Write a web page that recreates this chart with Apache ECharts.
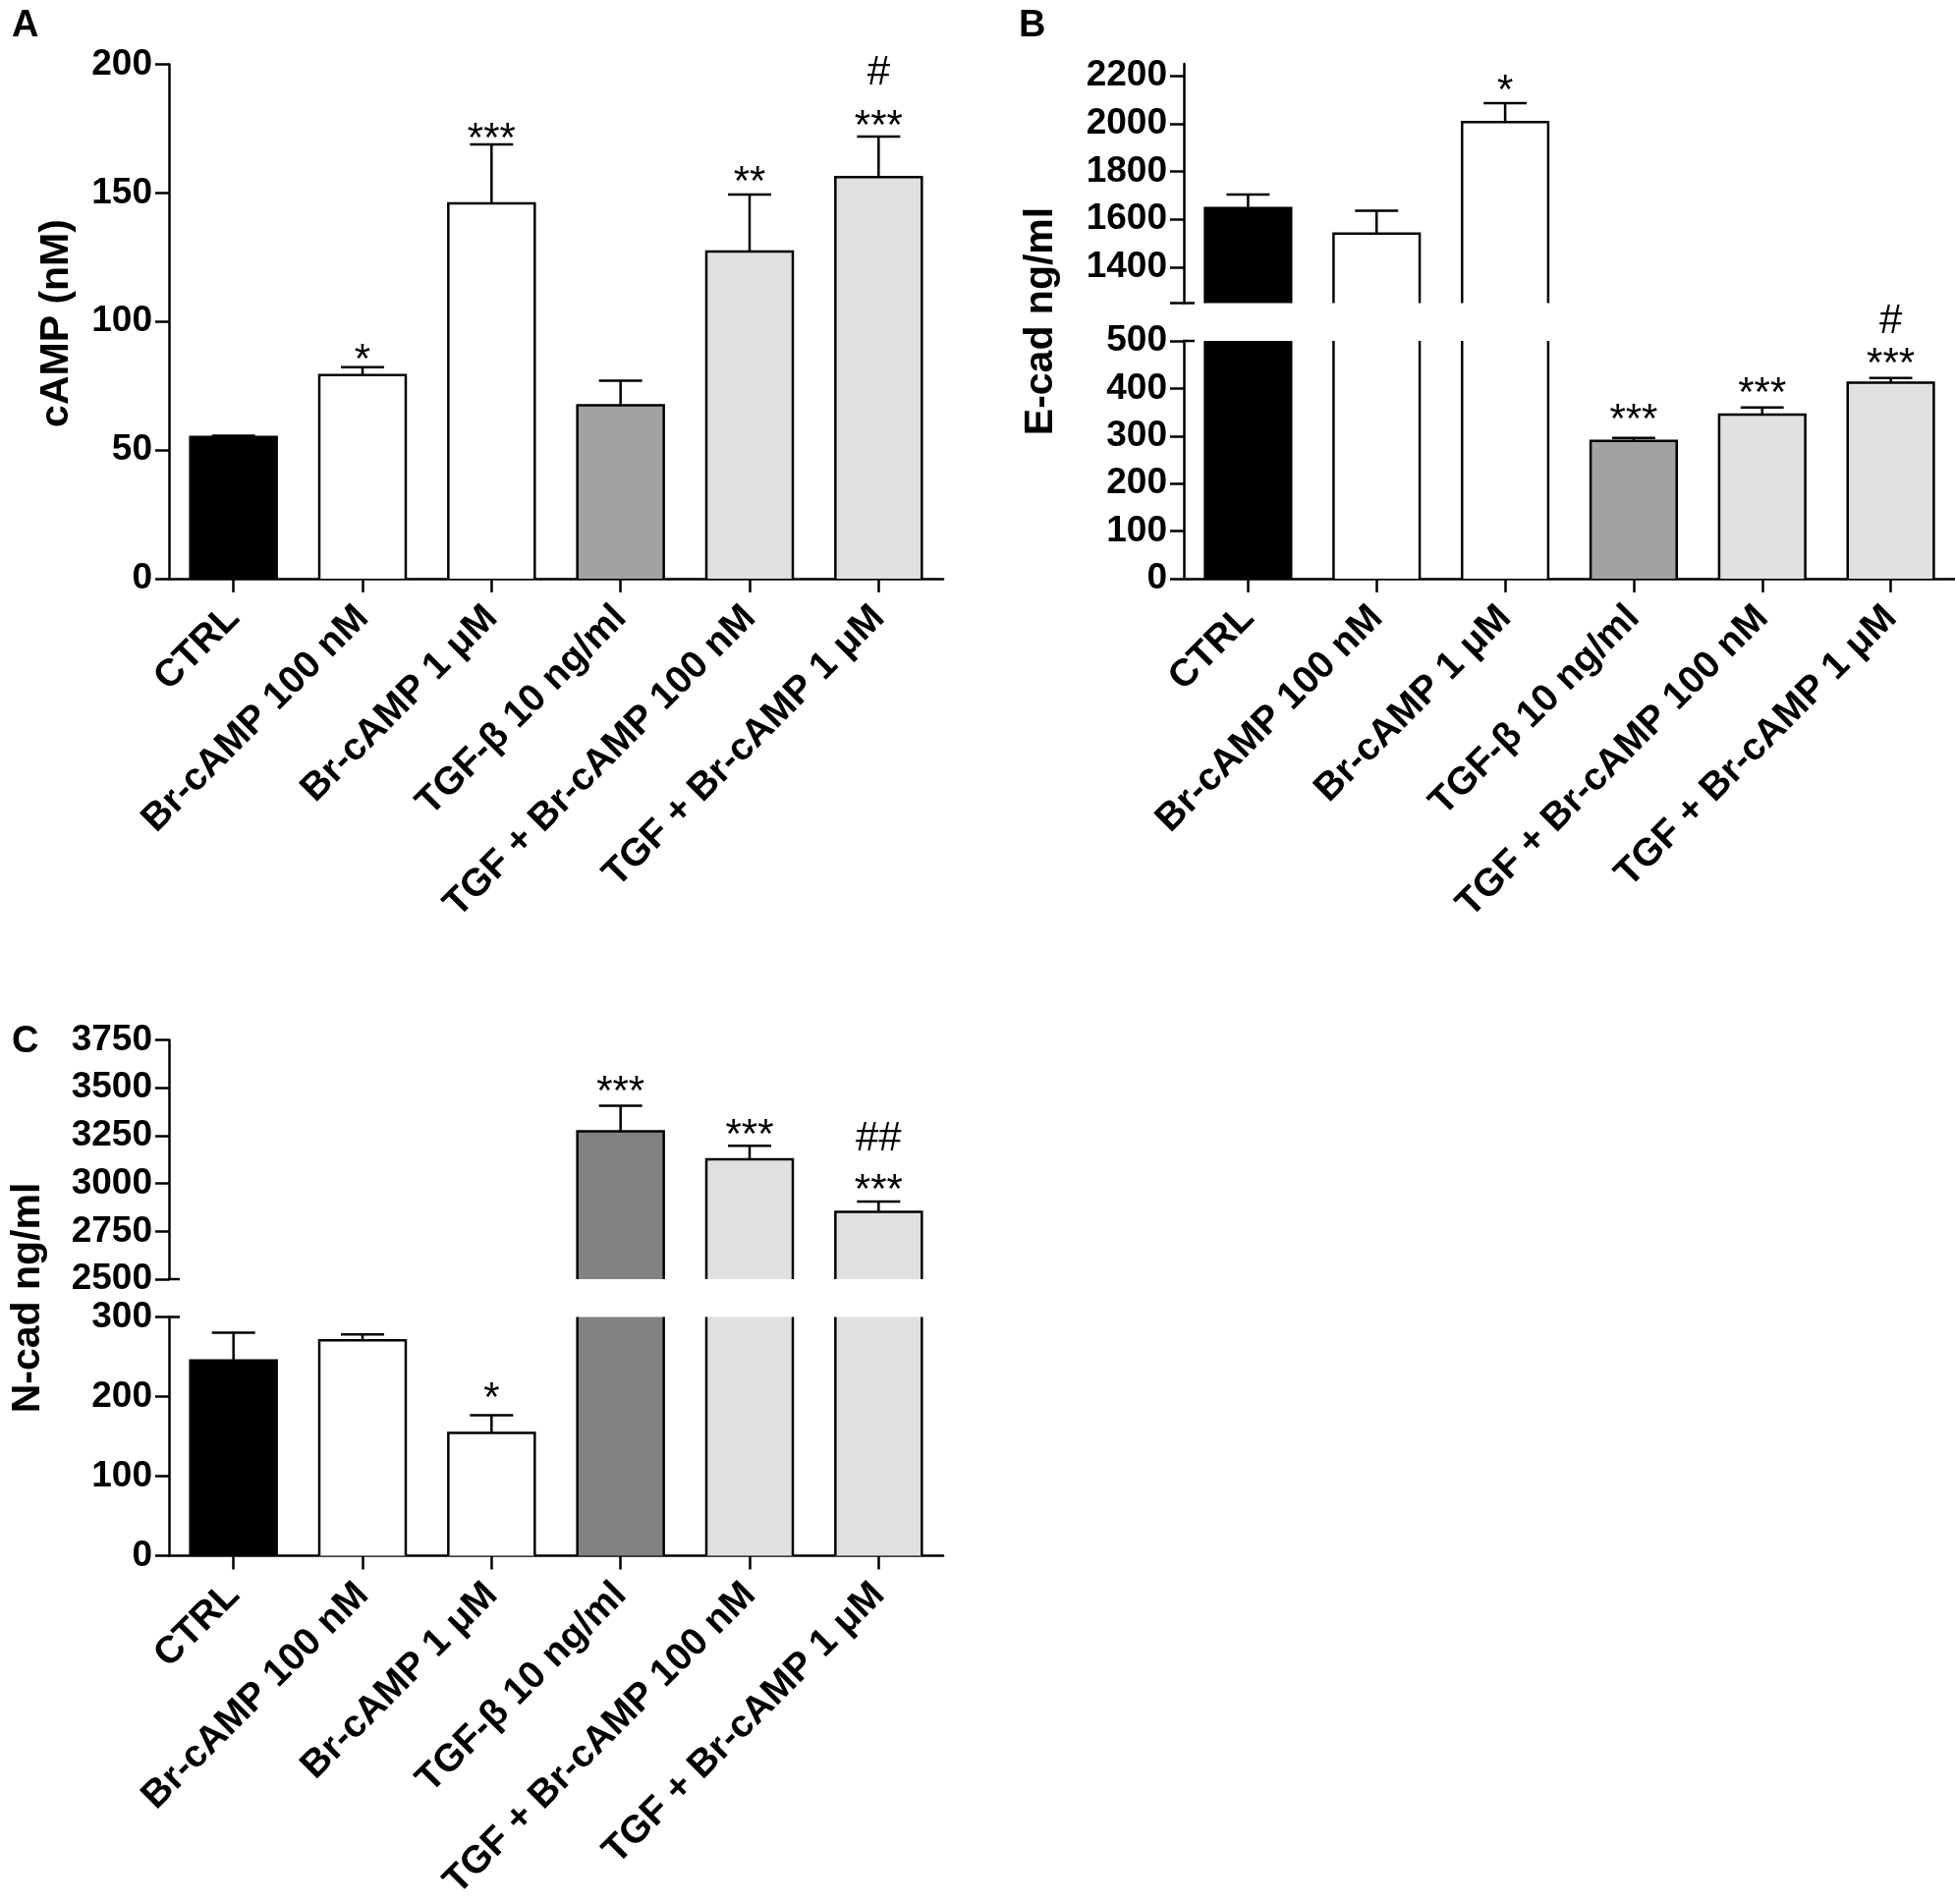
<!DOCTYPE html>
<html>
<head>
<meta charset="utf-8">
<script src="https://cdn.jsdelivr.net/npm/echarts@6.0.0/dist/echarts.min.js"></script>
<style>
  html, body { margin: 0; padding: 0; background: #fff; }
  #chart { width: 1990px; height: 1938px; }
</style>
</head>
<body>
<div id="chart"></div>
<script>
// ---------------- DATA ----------------
const categories = ['CTRL', 'Br-cAMP 100 nM', 'Br-cAMP 1 μM', 'TGF-β 10 ng/ml', 'TGF + Br-cAMP 100 nM', 'TGF + Br-cAMP 1 μM'];

// Panel A: cAMP (nM)
const campMean = [55.1, 79.2, 145.9, 67.4, 127.2, 156.2];
const campErr  = [0.5, 3.0, 23.0, 9.6, 22.2, 15.7];
const campTicks = [0, 50, 100, 150, 200];
const campNotes = [
  { cat: 1, y: 89, t: '*' },
  { cat: 2, y: 175, t: '***' },
  { cat: 4, y: 158, t: '**' },
  { cat: 5, y: 180, t: '***' },
  { cat: 5, y: 197, t: '#' }
];

// Panel B: E-cad ng/ml (broken axis)
const ecadMean = [1647, 1541, 2007, 290, 345, 412];
const ecadErr  = [57, 95, 79, 6, 15, 10];
const ecadUpperTickLabels = [1400, 1600, 1800, 2000, 2200];
const ecadUpperTicks = [1250, 1400, 1600, 1800, 2000, 2200];
const ecadLowerTicks = [0, 100, 200, 300, 400, 500];
const ecadBreakUpper = [1250];
const ecadBreakLower = [500];
const ecadNotesUpper = [ { cat: 2, y: 2180, t: '*' } ];
const ecadNotesLower = [
  { cat: 3, y: 356, t: '***' },
  { cat: 4, y: 411, t: '***' },
  { cat: 5, y: 474, t: '***' },
  { cat: 5, y: 543, t: '#' }
];

// Panel C: N-cad ng/ml (broken axis)
const ncadMean = [245.4, 270.6, 154.2, 3272, 3126, 2852];
const ncadErr  = [35, 7.6, 22.4, 134, 71, 53];
const ncadUpperTicks = [2500, 2750, 3000, 3250, 3500, 3750];
const ncadLowerTicks = [0, 100, 200, 300];
const ncadBreakUpper = [2500];
const ncadBreakLower = [300];
const ncadNotesUpper = [
  { cat: 3, y: 3531, t: '***' },
  { cat: 4, y: 3303, t: '***' },
  { cat: 5, y: 3238, t: '##' },
  { cat: 5, y: 3018, t: '***' }
];
const ncadNotesLower = [ { cat: 2, y: 211, t: '*' } ];

// ---------------- STYLE ----------------
const FONT = '"Liberation Sans", Arial, Helvetica, sans-serif';
const colorsAB = ['#000000', '#ffffff', '#ffffff', '#a2a2a2', '#e0e0e0', '#e0e0e0'];
const colorsC  = ['#000000', '#ffffff', '#ffffff', '#828282', '#e0e0e0', '#e0e0e0'];
const LW = 2.5;
const TICK_FS = 37;
const CAT_FS = 39;
const NOTE_FS = 42;
const NAME_FS = 41;

function barRender(params, api) {
  const idx = api.value(0), v = api.value(1), e = api.value(2);
  const cs = params.coordSys;
  const bottom = cs.y + cs.height, ceil = cs.y;
  const c = api.coord([idx, v]);
  const bw = api.size([1, 0])[0] * 0.67;
  let top = c[1];
  if (top >= bottom) return { type: 'group', children: [] };
  const clipped = top < ceil;
  if (clipped) top = ceil;
  const x0 = c[0] - bw / 2, x1 = c[0] + bw / 2;
  const fill = api.visual('color');
  const lineStyle = { stroke: '#000', lineWidth: LW, fill: null };
  const children = [
    { type: 'rect', shape: { x: x0, y: top, width: bw, height: bottom - top }, style: { fill: fill } }
  ];
  if (clipped) {
    children.push({ type: 'line', shape: { x1: x0, y1: bottom, x2: x0, y2: top }, style: lineStyle });
    children.push({ type: 'line', shape: { x1: x1, y1: bottom, x2: x1, y2: top }, style: lineStyle });
  } else {
    children.push({ type: 'polyline', shape: { points: [[x0, bottom], [x0, top], [x1, top], [x1, bottom]] }, style: lineStyle });
    const et = api.coord([idx, v + e])[1];
    children.push({ type: 'line', shape: { x1: c[0], y1: top, x2: c[0], y2: et }, style: lineStyle });
    children.push({ type: 'line', shape: { x1: c[0] - bw / 4, y1: et, x2: c[0] + bw / 4, y2: et }, style: lineStyle });
  }
  return { type: 'group', children: children };
}

function noteRender(list) {
  return function (params, api) {
    const a = list[params.dataIndex];
    const p = api.coord([a.cat, a.y]);
    const star = a.t.indexOf('*') >= 0;
    return {
      type: 'text',
      x: p[0],
      y: p[1] + (star ? 0.27 * NOTE_FS : 0.03 * NOTE_FS),
      style: {
        text: a.t, fill: '#000',
        font: NOTE_FS + 'px ' + FONT,
        align: 'center', verticalAlign: 'middle',
        textAlign: 'center', textVerticalAlign: 'middle'
      }
    };
  };
}

// short inward mark where the axis is broken
function breakRender(params, api) {
  const y = api.coord([0, api.value(1)])[1];
  const x = params.coordSys.x;
  return { type: 'line', shape: { x1: x - 1, y1: y, x2: x + 11, y2: y }, style: { stroke: '#000', lineWidth: LW } };
}

function barSeries(idx, mean, err, colors) {
  return {
    type: 'custom', xAxisIndex: idx, yAxisIndex: idx,
    renderItem: barRender,
    data: mean.map((v, i) => ({ value: [i, v, err[i]], itemStyle: { color: colors[i] } })),
    z: 2
  };
}
function noteSeries(idx, list) {
  return {
    type: 'custom', xAxisIndex: idx, yAxisIndex: idx,
    renderItem: noteRender(list),
    data: list.map(a => [a.cat, a.y]),
    z: 3
  };
}
function breakSeries(idx, vals) {
  return {
    type: 'custom', xAxisIndex: idx, yAxisIndex: idx,
    renderItem: breakRender,
    data: vals.map(v => [0, v]),
    z: 4
  };
}

const axisLine = { show: true, lineStyle: { color: '#000', width: LW } };
function xAxisDef(grid, show) {
  return {
    type: 'category', gridIndex: grid, data: categories, show: show,
    axisLine: axisLine,
    axisTick: { show: true, alignWithLabel: true, length: 14, lineStyle: { color: '#000', width: LW } },
    axisLabel: {
      rotate: 45, interval: 0, margin: 34, color: '#000',
      fontFamily: FONT, fontWeight: 'bold', fontSize: CAT_FS
    },
    splitLine: { show: false }
  };
}
function yAxisDef(grid, ticks, labelValues) {
  const min = ticks[0], max = ticks[ticks.length - 1];
  const ax = {
    type: 'value', gridIndex: grid, min: min, max: max,
    axisLine: axisLine,
    axisTick: { show: true, length: 14, lineStyle: { color: '#000', width: LW } },
    axisLabel: {
      margin: 17, color: '#000', fontFamily: FONT, fontWeight: 'bold', fontSize: TICK_FS,
      formatter: function (v) { return String(v); }
    },
    splitLine: { show: false }
  };
  if (labelValues) {
    ax.axisTick.customValues = ticks;
    ax.axisLabel.customValues = labelValues;
  } else {
    ax.interval = ticks[1] - ticks[0];
  }
  return ax;
}

const chart = echarts.init(document.getElementById('chart'), null, { renderer: 'canvas' });

const grids = [
  { left: 172, top: 65.5, width: 788, height: 523.5 },   // A
  { left: 1205, top: 65, width: 785, height: 243.5 },    // B upper
  { left: 1205, top: 347, width: 785, height: 242 },     // B lower
  { left: 172, top: 1058.5, width: 788, height: 243.5 }, // C upper
  { left: 172, top: 1340.5, width: 788, height: 243 }    // C lower
].map(g => Object.assign({ containLabel: false, outerBoundsMode: 'none' }, g));

const yB = yAxisDef(1, ecadUpperTicks, ecadUpperTickLabels);
yB.max = 2250;

const option = {
  animation: false,
  backgroundColor: '#fff',
  grid: grids,
  xAxis: [xAxisDef(0, true), xAxisDef(1, false), xAxisDef(2, true), xAxisDef(3, false), xAxisDef(4, true)],
  yAxis: [
    yAxisDef(0, campTicks),
    yB,
    yAxisDef(2, ecadLowerTicks),
    yAxisDef(3, ncadUpperTicks),
    yAxisDef(4, ncadLowerTicks)
  ],
  series: [
    barSeries(0, campMean, campErr, colorsAB),
    barSeries(1, ecadMean, ecadErr, colorsAB),
    barSeries(2, ecadMean, ecadErr, colorsAB),
    barSeries(3, ncadMean, ncadErr, colorsC),
    barSeries(4, ncadMean, ncadErr, colorsC),
    noteSeries(0, campNotes),
    noteSeries(1, ecadNotesUpper),
    noteSeries(2, ecadNotesLower),
    noteSeries(3, ncadNotesUpper),
    noteSeries(4, ncadNotesLower),
    breakSeries(1, ecadBreakUpper),
    breakSeries(2, ecadBreakLower),
    breakSeries(3, ncadBreakUpper),
    breakSeries(4, ncadBreakLower)
  ],
  graphic: [
    { type: 'text', left: 12, top: 8, style: { text: 'A', font: 'bold 38px ' + FONT, fill: '#000' } },
    { type: 'text', left: 1037, top: 8, style: { text: 'B', font: 'bold 38px ' + FONT, fill: '#000' } },
    { type: 'text', left: 12, top: 1042, style: { text: 'C', font: 'bold 38px ' + FONT, fill: '#000' } },
    { type: 'text', x: 58, y: 329, rotation: Math.PI / 2,
      style: { text: 'cAMP (nM)', font: 'bold ' + NAME_FS + 'px ' + FONT, fill: '#000', align: 'center', verticalAlign: 'middle', textAlign: 'center', textVerticalAlign: 'middle' } },
    { type: 'text', x: 1060, y: 327, rotation: Math.PI / 2,
      style: { text: 'E-cad ng/ml', font: 'bold ' + NAME_FS + 'px ' + FONT, fill: '#000', align: 'center', verticalAlign: 'middle', textAlign: 'center', textVerticalAlign: 'middle' } },
    { type: 'text', x: 29, y: 1321, rotation: Math.PI / 2,
      style: { text: 'N-cad ng/ml', font: 'bold ' + NAME_FS + 'px ' + FONT, fill: '#000', align: 'center', verticalAlign: 'middle', textAlign: 'center', textVerticalAlign: 'middle' } }
  ]
};
chart.setOption(option);
</script>
</body>
</html>
